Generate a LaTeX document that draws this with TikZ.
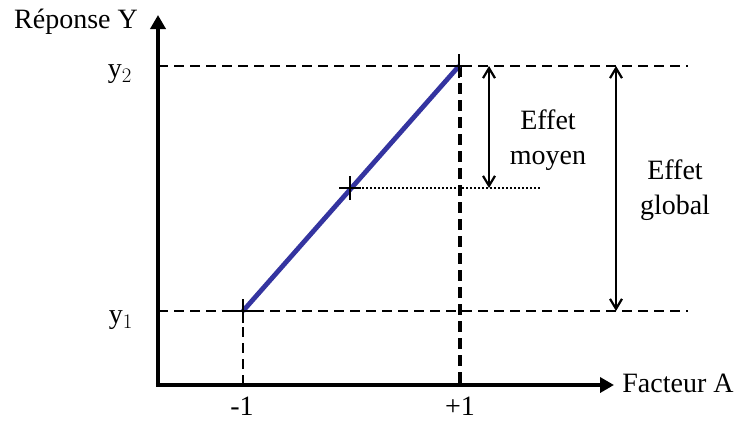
\documentclass[tikz,border=0pt]{standalone}
\usepackage{fontspec}
\setmainfont{Liberation Serif}
\usetikzlibrary{arrows.meta}
\definecolor{lineblue}{RGB}{52,52,160}
\tikzset{
  lbl/.style={font=\fontsize{28}{33}\selectfont, inner sep=0pt},
  axisline/.style={line width=4.4pt, -{Triangle[length=14pt,width=15pt]}},
  guide/.style={line width=2.8pt, dash pattern=on 10pt off 6pt},
  guidethick/.style={line width=4.2pt, dash pattern=on 11pt off 6pt},
  dimarrow/.style={line width=2.2pt, {Straight Barb[length=10pt,width=12pt]}-{Straight Barb[length=10pt,width=12pt]}},
  crossmark/.style={line width=2.4pt}
}
\begin{document}
\begin{tikzpicture}[x=1pt,y=-1pt]
\useasboundingbox (0,0) rectangle (736,423);
% key coordinates
\coordinate (O) at (158,385);
\coordinate (ytop) at (158,15);
\coordinate (xend) at (614,385);
\coordinate (p1) at (243,311);
\coordinate (pm) at (350,188);
\coordinate (p2) at (459,66);
\coordinate (y2l) at (158,66);
\coordinate (y2r) at (688,66);
\coordinate (y1l) at (158,311);
\coordinate (y1r) at (688,311);
\coordinate (x1b) at (243,385);
\coordinate (x2b) at (460,385);
\coordinate (x2t) at (460,66);
\coordinate (dotend) at (540,188);
\coordinate (ma) at (489,66);
\coordinate (mb) at (489,188);
\coordinate (ga) at (616,66);
\coordinate (gb) at (616,311);
% guides
\draw[guide] (y2l) -- (y2r);
\draw[guide] (y1l) -- (y1r);
\draw[guide] (p1) -- (x1b);
\draw[guidethick] (x2t) -- (x2b);
\draw[line width=2.4pt, dash pattern=on 2pt off 2pt] (pm) -- (dotend);
% axes
\draw[axisline] ([yshift=2.2pt]O) -- (ytop);
\draw[axisline] ([xshift=-2.2pt]O) -- (xend);
% blue line
\draw[lineblue, line width=4.8pt] (p1) -- (p2);
% crosses
\foreach \p in {p1,pm,p2}{
  \draw[crossmark] ([xshift=-11pt]\p) -- ([xshift=11pt]\p);
  \draw[crossmark] ([yshift=-12pt]\p) -- ([yshift=12pt]\p);
}
% dimension arrows
\draw[dimarrow] (ma) -- (mb);
\draw[dimarrow] (ga) -- (gb);
% labels
\node[lbl] (repY) at (76,22) {Réponse Y};
\node[lbl] (facA) at (678,383) {Facteur A};
\node[lbl] (ly2) at (120,74) {y$_2$};
\node[lbl] (ly1) at (121,320) {y$_1$};
\node[lbl] (lm1) at (242,406) {-1};
\node[lbl] (lp1) at (460,406) {+1};
\node[lbl, align=center] (moyen) at (548,140) {Effet\\[2pt]moyen};
\node[lbl, align=center] (global) at (675,190) {Effet\\[2pt]global};
\end{tikzpicture}
\end{document}
